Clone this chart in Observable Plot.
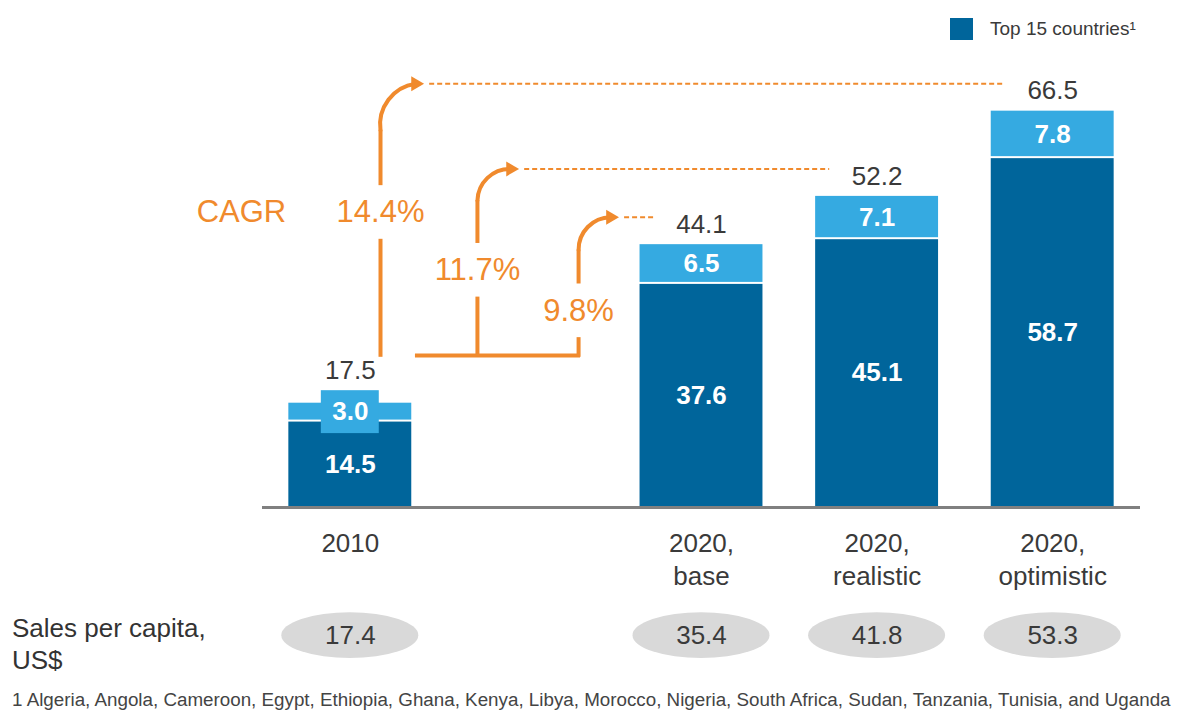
<!DOCTYPE html>
<html>
<head>
<meta charset="utf-8">
<script src="https://cdn.jsdelivr.net/npm/d3@7"></script>
<script src="https://cdn.jsdelivr.net/npm/@observablehq/plot@0.6"></script>
<style>
  html, body { margin: 0; padding: 0; background: #fff; }
  #wrap { position: relative; width: 1178px; height: 711px; overflow: hidden; font-family: "Liberation Sans", Arial, Helvetica, sans-serif; color: #3a3a3a; }
  #chart { position: absolute; left: 0; top: 0; }
  #legend { position: absolute; left: 950px; top: 18px; display: flex; align-items: center; font-size: 19px; color: #3a3a3a; }
  #legend .sw { width: 23px; height: 22px; background: #00659b; margin-right: 17px; }
  #rowlabel { position: absolute; left: 12px; top: 612px; font-size: 26px; line-height: 32px; color: #333; }
  #foot { position: absolute; left: 12px; top: 689px; font-size: 18.8px; line-height: 22px; color: #444; white-space: nowrap; }
</style>
</head>
<body>
<div id="wrap">
  <div id="chart"></div>
  <div id="legend"><div class="sw"></div><span>Top 15 countries¹</span></div>
  <div id="rowlabel">Sales per capita,<br>US$</div>
  <div id="foot">1 Algeria, Angola, Cameroon, Egypt, Ethiopia, Ghana, Kenya, Libya, Morocco, Nigeria, South Africa, Sudan, Tanzania, Tunisia, and Uganda</div>
</div>
<script>
// ---- data ----
const xDomain = ["2010", "", "2020, base", "2020, realistic", "2020, optimistic"]; // "" = empty slot
const categories = ["2010", "2020, base", "2020, realistic", "2020, optimistic"];
const categoryLabels = ["2010", "2020,\nbase", "2020,\nrealistic", "2020,\noptimistic"];
const top15 = [14.5, 37.6, 45.1, 58.7];
const rest = [3.0, 6.5, 7.1, 7.8];
const totals = [17.5, 44.1, 52.2, 66.5];
const salesPerCapita = [17.4, 35.4, 41.8, 53.3];
const cagrLabels = ["14.4%", "11.7%", "9.8%"];
const cagrTargets = ["2020, optimistic", "2020, realistic", "2020, base"];

// ---- styling / layout ----
const DARK = "#00659b", LIGHT = "#35aae1", ORANGE = "#f08a2d", TXT = "#3a3a3a";
const BAR = 0.35;            // half bar width (category units)
const ELL = 0.39;            // half ellipse width
const rowY = -21.5, rowH = 3.85; // sales-per-capita row (value units below baseline)
// CAGR arrow layout: stem x, label y, curve start, tip x
const cagrLayout = [
  {stem: 0.172, labelY: 49.5, curveStart: 63.3, tipX: 0.417},
  {stem: 0.724, labelY: 39.8, curveStart: 51.5, tipX: 0.958},
  {stem: 1.300, labelY: 33.0, curveStart: 43.2, tipX: 1.527}
];
const baseLineY = 25.5, baseLineStart = 0.371;

const rows = categories.map((c, k) => ({
  cat: c, label: categoryLabels[k], i: xDomain.indexOf(c),
  top15: top15[k], rest: rest[k], total: totals[k], capita: salesPerCapita[k]
}));
const boxed = rows.filter(d => d.rest < 4);
const boxTop = d => d.top15 + d.rest / 2 + 3.6;

const cagr = cagrLabels.map((l, k) => {
  const t = rows.find(r => r.cat === cagrTargets[k]);
  const L = cagrLayout[k];
  return {label: l, ...L, tipY: t.total + 4.6, dashEnd: t.i - 0.27};
});

const fmt = v => v.toFixed(1);

const chart = Plot.plot({
  width: 1178, height: 711,
  marginLeft: 262, marginRight: 38, marginTop: 0, marginBottom: 0,
  style: {fontFamily: "'Liberation Sans', Arial, Helvetica, sans-serif", background: "transparent"},
  x: {domain: [-0.5, xDomain.length - 0.5], axis: null},
  y: {domain: [0, 70], range: [507, 507 - 70 * 5.96], axis: null},
  marks: [
    // bars
    Plot.rect(rows, {x1: d => d.i - BAR, x2: d => d.i + BAR, y1: d => 0, y2: d => d.top15, fill: DARK, insetTop: 1}),
    Plot.rect(rows, {x1: d => d.i - BAR, x2: d => d.i + BAR, y1: d => d.top15, y2: d => d.total, fill: LIGHT, insetBottom: 1}),
    Plot.rect(boxed, {x1: d => d.i - 0.165, x2: d => d.i + 0.165, y1: d => boxTop(d) - 7.2, y2: d => boxTop(d), fill: LIGHT}),
    Plot.ruleY([0], {stroke: "#808080", strokeWidth: 3}),
    // inner labels
    Plot.text(rows, {x: "i", y: d => d.top15 / 2, text: d => fmt(d.top15), fill: "white", fontWeight: "bold", fontSize: 26}),
    Plot.text(rows, {x: "i", y: d => d.top15 + d.rest / 2, text: d => fmt(d.rest), fill: "white", fontWeight: "bold", fontSize: 26}),
    // totals
    Plot.text(rows, {x: "i", y: d => (d.rest < 4 ? boxTop(d) : d.total), text: d => fmt(d.total), fill: TXT, fontSize: 26, dy: -20}),
    // category labels
    Plot.text(rows, {x: "i", y: d => 0, text: "label", lineAnchor: "top", dy: 21, lineHeight: 1.27, fill: TXT, fontSize: 26}),
    // sales per capita ellipses
    Plot.rect(rows, {x1: d => d.i - ELL, x2: d => d.i + ELL, y1: d => rowY - rowH, y2: d => rowY + rowH, fill: "#d9d9d9", rx: 80}),
    Plot.text(rows, {x: "i", y: d => rowY, text: d => fmt(d.capita), fill: TXT, fontSize: 26}),
    // CAGR annotations
    Plot.ruleY(cagr, {y: "tipY", x1: d => d.tipX + 0.035, x2: "dashEnd", stroke: ORANGE, strokeWidth: 2, strokeDasharray: "5,3"}),
    Plot.ruleY([baseLineY], {x1: baseLineStart, x2: cagrLayout[2].stem + 0.011, stroke: ORANGE, strokeWidth: 4}),
    Plot.ruleX(cagr, {x: "stem", y1: d => baseLineY - 0.3, y2: d => d.labelY - 4.5, stroke: ORANGE, strokeWidth: 4}),
    Plot.ruleX(cagr, {x: "stem", y1: d => d.labelY + 4.5, y2: "curveStart", stroke: ORANGE, strokeWidth: 4}),
    Plot.arrow(cagr, {x1: "stem", y1: "curveStart", x2: d => d.tipX - 0.045, y2: "tipY", bend: 45, stroke: ORANGE, strokeWidth: 4, headLength: 0}),
    Plot.dot(cagr, {x: "tipX", y: "tipY", symbol: "triangle", rotate: 90, r: 5.5, dx: -8, fill: ORANGE, stroke: "none"}),
    Plot.text(cagr, {x: "stem", y: "labelY", text: "label", fill: ORANGE, fontSize: 31}),
    Plot.text(["CAGR"], {x: -0.62, y: cagrLayout[0].labelY, text: d => d, fill: ORANGE, fontSize: 31})
  ]
});
document.getElementById("chart").appendChild(chart);
</script>
</body>
</html>
